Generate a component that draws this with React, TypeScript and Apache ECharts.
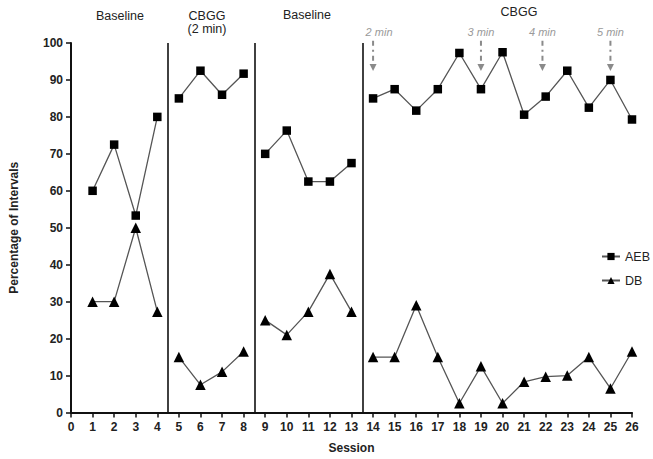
import React, { useEffect, useRef } from "react";
import * as echarts from "echarts";

const sessions = [1, 2, 3, 4, 5, 6, 7, 8, 9, 10, 11, 12, 13, 14, 15, 16, 17, 18, 19, 20, 21, 22, 23, 24, 25, 26];
const aeb = [60, 72.5, 53.3, 80, 85, 92.5, 86, 91.7, 70, 76.3, 62.5, 62.5, 67.5, 85, 87.5, 81.7, 87.5, 97.3, 87.5, 97.5, 80.6, 85.5, 92.5, 82.5, 90, 79.3];
const db = [30, 30, 50, 27.3, 15, 7.5, 11, 16.5, 25, 21, 27.3, 37.5, 27.3, 15, 15, 29, 15, 2.5, 12.5, 2.5, 8.3, 9.7, 10, 15, 6.5, 16.5];
const phaseBreaks = [4.5, 8.5, 13.5];
const phaseTitles = ["Baseline", "CBGG\n(2 min)", "Baseline", "CBGG"];
const arrowSessions = [14, 19, 21.85, 25];
const arrowLabels = ["2 min", "3 min", "4 min", "5 min"];
const arrowTop = 100.6;
const arrowBottom = 92.4;
const labelValue = 103;

const FONT = "'Liberation Sans', Arial, sans-serif";

function withGaps(values: number[]) {
  const out: any[] = [];
  sessions.forEach((s, i) => {
    out.push([s, values[i]]);
    if (phaseBreaks.includes(s + 0.5)) out.push([s + 0.5, "-"]);
  });
  return out;
}

const titlePos = [
  { x: 120, y: 16 },
  { x: 207, y: 22 },
  { x: 307, y: 15 },
  { x: 519, y: 12 },
];

export default function App() {
  const ref = useRef<HTMLDivElement>(null);
  useEffect(() => {
    if (!ref.current) return;
    const chart = echarts.init(ref.current, null, { renderer: "svg" });
    const lineStyle = { color: "#555", width: 1.3 };
    chart.setOption({
      animation: false,
      textStyle: { fontFamily: FONT },
      grid: { left: 69, right: 21, top: 43, bottom: 46.5 },
      legend: {
        orient: "vertical",
        left: 596,
        top: 245,
        itemWidth: 18,
        itemHeight: 9,
        itemGap: 11,
        data: ["AEB", "DB"],
        textStyle: { fontFamily: FONT, fontSize: 12.5, color: "#222" },
      },
      xAxis: {
        type: "value",
        min: 0,
        max: 26,
        interval: 1,
        name: "Session",
        nameLocation: "middle",
        nameGap: 29,
        nameTextStyle: { fontFamily: FONT, fontSize: 12, fontWeight: "bold", color: "#222" },
        axisLine: { lineStyle: { color: "#111", width: 2 } },
        axisTick: { show: true, length: 5, lineStyle: { color: "#111", width: 1.5 } },
        axisLabel: { fontFamily: FONT, fontSize: 12, fontWeight: "bold", color: "#222", margin: 8 },
        splitLine: { show: false },
      },
      yAxis: {
        type: "value",
        min: 0,
        max: 100,
        interval: 10,
        name: "Percentage of Intervals",
        nameLocation: "middle",
        nameGap: 51,
        nameTextStyle: { fontFamily: FONT, fontSize: 12, fontWeight: "bold", color: "#222" },
        axisLine: { show: true, lineStyle: { color: "#111", width: 2 } },
        axisTick: { show: true, length: 5, lineStyle: { color: "#111", width: 1.5 } },
        axisLabel: { fontFamily: FONT, fontSize: 12, fontWeight: "bold", color: "#222", margin: 8 },
        splitLine: { show: false },
      },
      graphic: phaseTitles.map((t, i) => ({
        type: "text",
        x: titlePos[i].x,
        y: titlePos[i].y,
        style: { text: t, font: `12.5px ${FONT}`, fill: "#222", align: "center", verticalAlign: "middle", lineHeight: 13 },
      })),
      series: [
        {
          name: "AEB",
          type: "line",
          data: withGaps(aeb),
          connectNulls: false,
          symbol: "rect",
          symbolSize: 8.5,
          itemStyle: { color: "#000" },
          lineStyle,
          markLine: {
            silent: true,
            symbol: "none",
            label: { show: false },
            lineStyle: { color: "#111", width: 1.6, type: "solid" },
            data: phaseBreaks.map((x) => ({ xAxis: x })),
          },
        },
        {
          name: "DB",
          type: "line",
          data: withGaps(db),
          connectNulls: false,
          symbol: "triangle",
          symbolSize: 10.5,
          itemStyle: { color: "#000" },
          lineStyle,
        },
        {
          name: "arrows",
          type: "custom",
          silent: true,
          data: arrowSessions.map((s, i) => [s, arrowTop, arrowBottom, labelValue, arrowLabels[i]]),
          renderItem: (params: any, api: any) => {
            const x = api.value(0);
            const top = api.coord([x, api.value(1)]);
            const bot = api.coord([x, api.value(2)]);
            const lab = api.coord([x, api.value(3)]);
            const text = arrowLabels[params.dataIndex];
            const dx = params.dataIndex === 0 ? 6 : 0;
            return {
              type: "group",
              children: [
                {
                  type: "line",
                  shape: { x1: top[0], y1: top[1], x2: bot[0], y2: bot[1] - 6 },
                  style: { stroke: "#8a8a8a", lineWidth: 2, lineDash: [5, 4, 2, 4] },
                },
                {
                  type: "polygon",
                  shape: { points: [[bot[0] - 3.5, bot[1] - 7], [bot[0] + 3.5, bot[1] - 7], [bot[0], bot[1]]] },
                  style: { fill: "#8a8a8a" },
                },
                {
                  type: "text",
                  x: lab[0] + dx,
                  y: lab[1],
                  style: { text, font: `italic 11px ${FONT}`, fill: "#9a9a9a", align: "center", verticalAlign: "middle" },
                },
              ],
            };
          },
        },
      ],
    });
    return () => chart.dispose();
  }, []);
  return <div ref={ref} style={{ position: "fixed", left: 0, top: 0, width: 653, height: 459, background: "#fff" }} />;
}
